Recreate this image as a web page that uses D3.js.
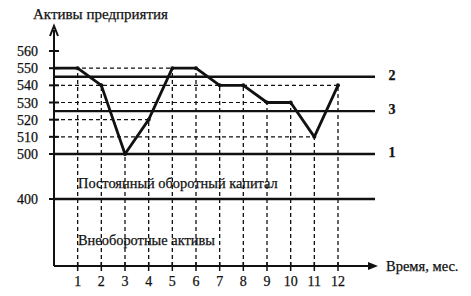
<!DOCTYPE html>
<html>
<head>
<meta charset="utf-8">
<script src="https://cdn.jsdelivr.net/npm/d3@7"></script>
<style>
  body { margin: 0; background: #fff; }
  text { font-family: "Liberation Serif", "DejaVu Serif", serif; fill: #111; stroke: #111; stroke-width: 0.25; }
</style>
</head>
<body>
<svg width="471" height="296"></svg>
<script>
// данные графика
const months = [0, 1, 2, 3, 4, 5, 6, 7, 8, 9, 10, 11, 12];
const assets = [550, 550, 540, 500, 520, 550, 550, 540, 540, 530, 530, 510, 540];
const yTicks = [400, 500, 510, 520, 530, 540, 550, 560];
const levels = [500, 545, 525];   // линии 1, 2, 3
const levelNames = ["1", "2", "3"];

const svg = d3.select("svg");

// ось x: месяцы
const x = d3.scaleLinear().domain([0, 12]).range([54, 338]);
// ось y с разрывом ниже 500
const y = d3.scaleLinear()
  .domain([250, 400, 500, 560])
  .range([266, 199, 154, 51]);

const ink = "#111";

// вертикальные пунктиры от оси до точки
svg.selectAll(".vdash")
  .data(months.slice(1))
  .enter().append("line")
  .attr("x1", d => x(d)).attr("x2", d => x(d))
  .attr("y1", 266).attr("y2", (d) => y(assets[d]))
  .attr("stroke", ink).attr("stroke-width", 1.3)
  .attr("stroke-dasharray", "4,3");

// горизонтальные пунктиры до последней точки с этим значением
const dashVals = Array.from(new Set(assets)).filter(v => v !== 500);
svg.selectAll(".hdash")
  .data(dashVals)
  .enter().append("line")
  .attr("x1", x(0))
  .attr("x2", v => x(d3.max(months.filter(m => assets[m] === v))))
  .attr("y1", v => y(v)).attr("y2", v => y(v))
  .attr("stroke", ink).attr("stroke-width", 1.2)
  .attr("stroke-dasharray", "4,3");

// жирные горизонтальные линии 400, 1, 2, 3
svg.selectAll(".level")
  .data([400].concat(levels))
  .enter().append("line")
  .attr("x1", x(0)).attr("x2", 375)
  .attr("y1", d => y(d)).attr("y2", d => y(d))
  .attr("stroke", ink).attr("stroke-width", 2.4);

svg.selectAll(".levelName")
  .data(levels)
  .enter().append("text")
  .attr("x", 392).attr("y", d => y(d) + 3)
  .attr("text-anchor", "middle")
  .attr("font-size", 14).attr("font-weight", "bold")
  .text((d, i) => levelNames[i]);

// линия активов
const line = d3.line().x(d => x(d)).y(d => y(assets[d]));
svg.append("path")
  .datum(months)
  .attr("d", line)
  .attr("fill", "none")
  .attr("stroke", ink)
  .attr("stroke-width", 2.8)
  .attr("stroke-linejoin", "round");

svg.selectAll(".pt")
  .data(months.slice(1))
  .enter().append("circle")
  .attr("cx", d => x(d)).attr("cy", d => y(assets[d]))
  .attr("r", 2).attr("fill", ink);

// оси
svg.append("line")
  .attr("x1", x(0)).attr("x2", x(0))
  .attr("y1", 266).attr("y2", 30)
  .attr("stroke", ink).attr("stroke-width", 2);
svg.append("path")
  .attr("d", `M${x(0) - 4},36 L${x(0)},26 L${x(0) + 4},36`)
  .attr("fill", "none").attr("stroke", ink).attr("stroke-width", 2);

svg.append("line")
  .attr("x1", x(0)).attr("x2", 374)
  .attr("y1", 266).attr("y2", 266)
  .attr("stroke", ink).attr("stroke-width", 2);
svg.append("path")
  .attr("d", `M368,262 L378,266 L368,270 Z`)
  .attr("fill", ink);

// деления оси y
svg.selectAll(".ytick")
  .data(yTicks)
  .enter().append("line")
  .attr("x1", x(0) - 5).attr("x2", x(0) + 5)
  .attr("y1", d => y(d)).attr("y2", d => y(d))
  .attr("stroke", ink).attr("stroke-width", 2);

svg.selectAll(".ylab")
  .data(yTicks)
  .enter().append("text")
  .attr("x", 38).attr("y", d => y(d) + 5)
  .attr("text-anchor", "end")
  .attr("font-size", 14)
  .text(d => d);

// деления оси x
svg.selectAll(".xtick")
  .data(months.slice(1))
  .enter().append("line")
  .attr("x1", d => x(d)).attr("x2", d => x(d))
  .attr("y1", 262).attr("y2", 271)
  .attr("stroke", ink).attr("stroke-width", 1.5);

svg.selectAll(".xlab")
  .data(months.slice(1))
  .enter().append("text")
  .attr("x", d => x(d)).attr("y", 286)
  .attr("text-anchor", "middle")
  .attr("font-size", 14)
  .text(d => d);

// подписи
svg.append("text").attr("x", 33).attr("y", 19)
  .attr("font-size", 15).text("Активы предприятия");
svg.append("text").attr("x", 386).attr("y", 271)
  .attr("font-size", 14.5).text("Время, мес.");
svg.append("text").attr("x", 78).attr("y", 188)
  .attr("font-size", 14.4).text("Постоянный оборотный капитал");
svg.append("text").attr("x", 78).attr("y", 245)
  .attr("font-size", 14.4).text("Внеоборотные активы");
</script>
</body>
</html>
